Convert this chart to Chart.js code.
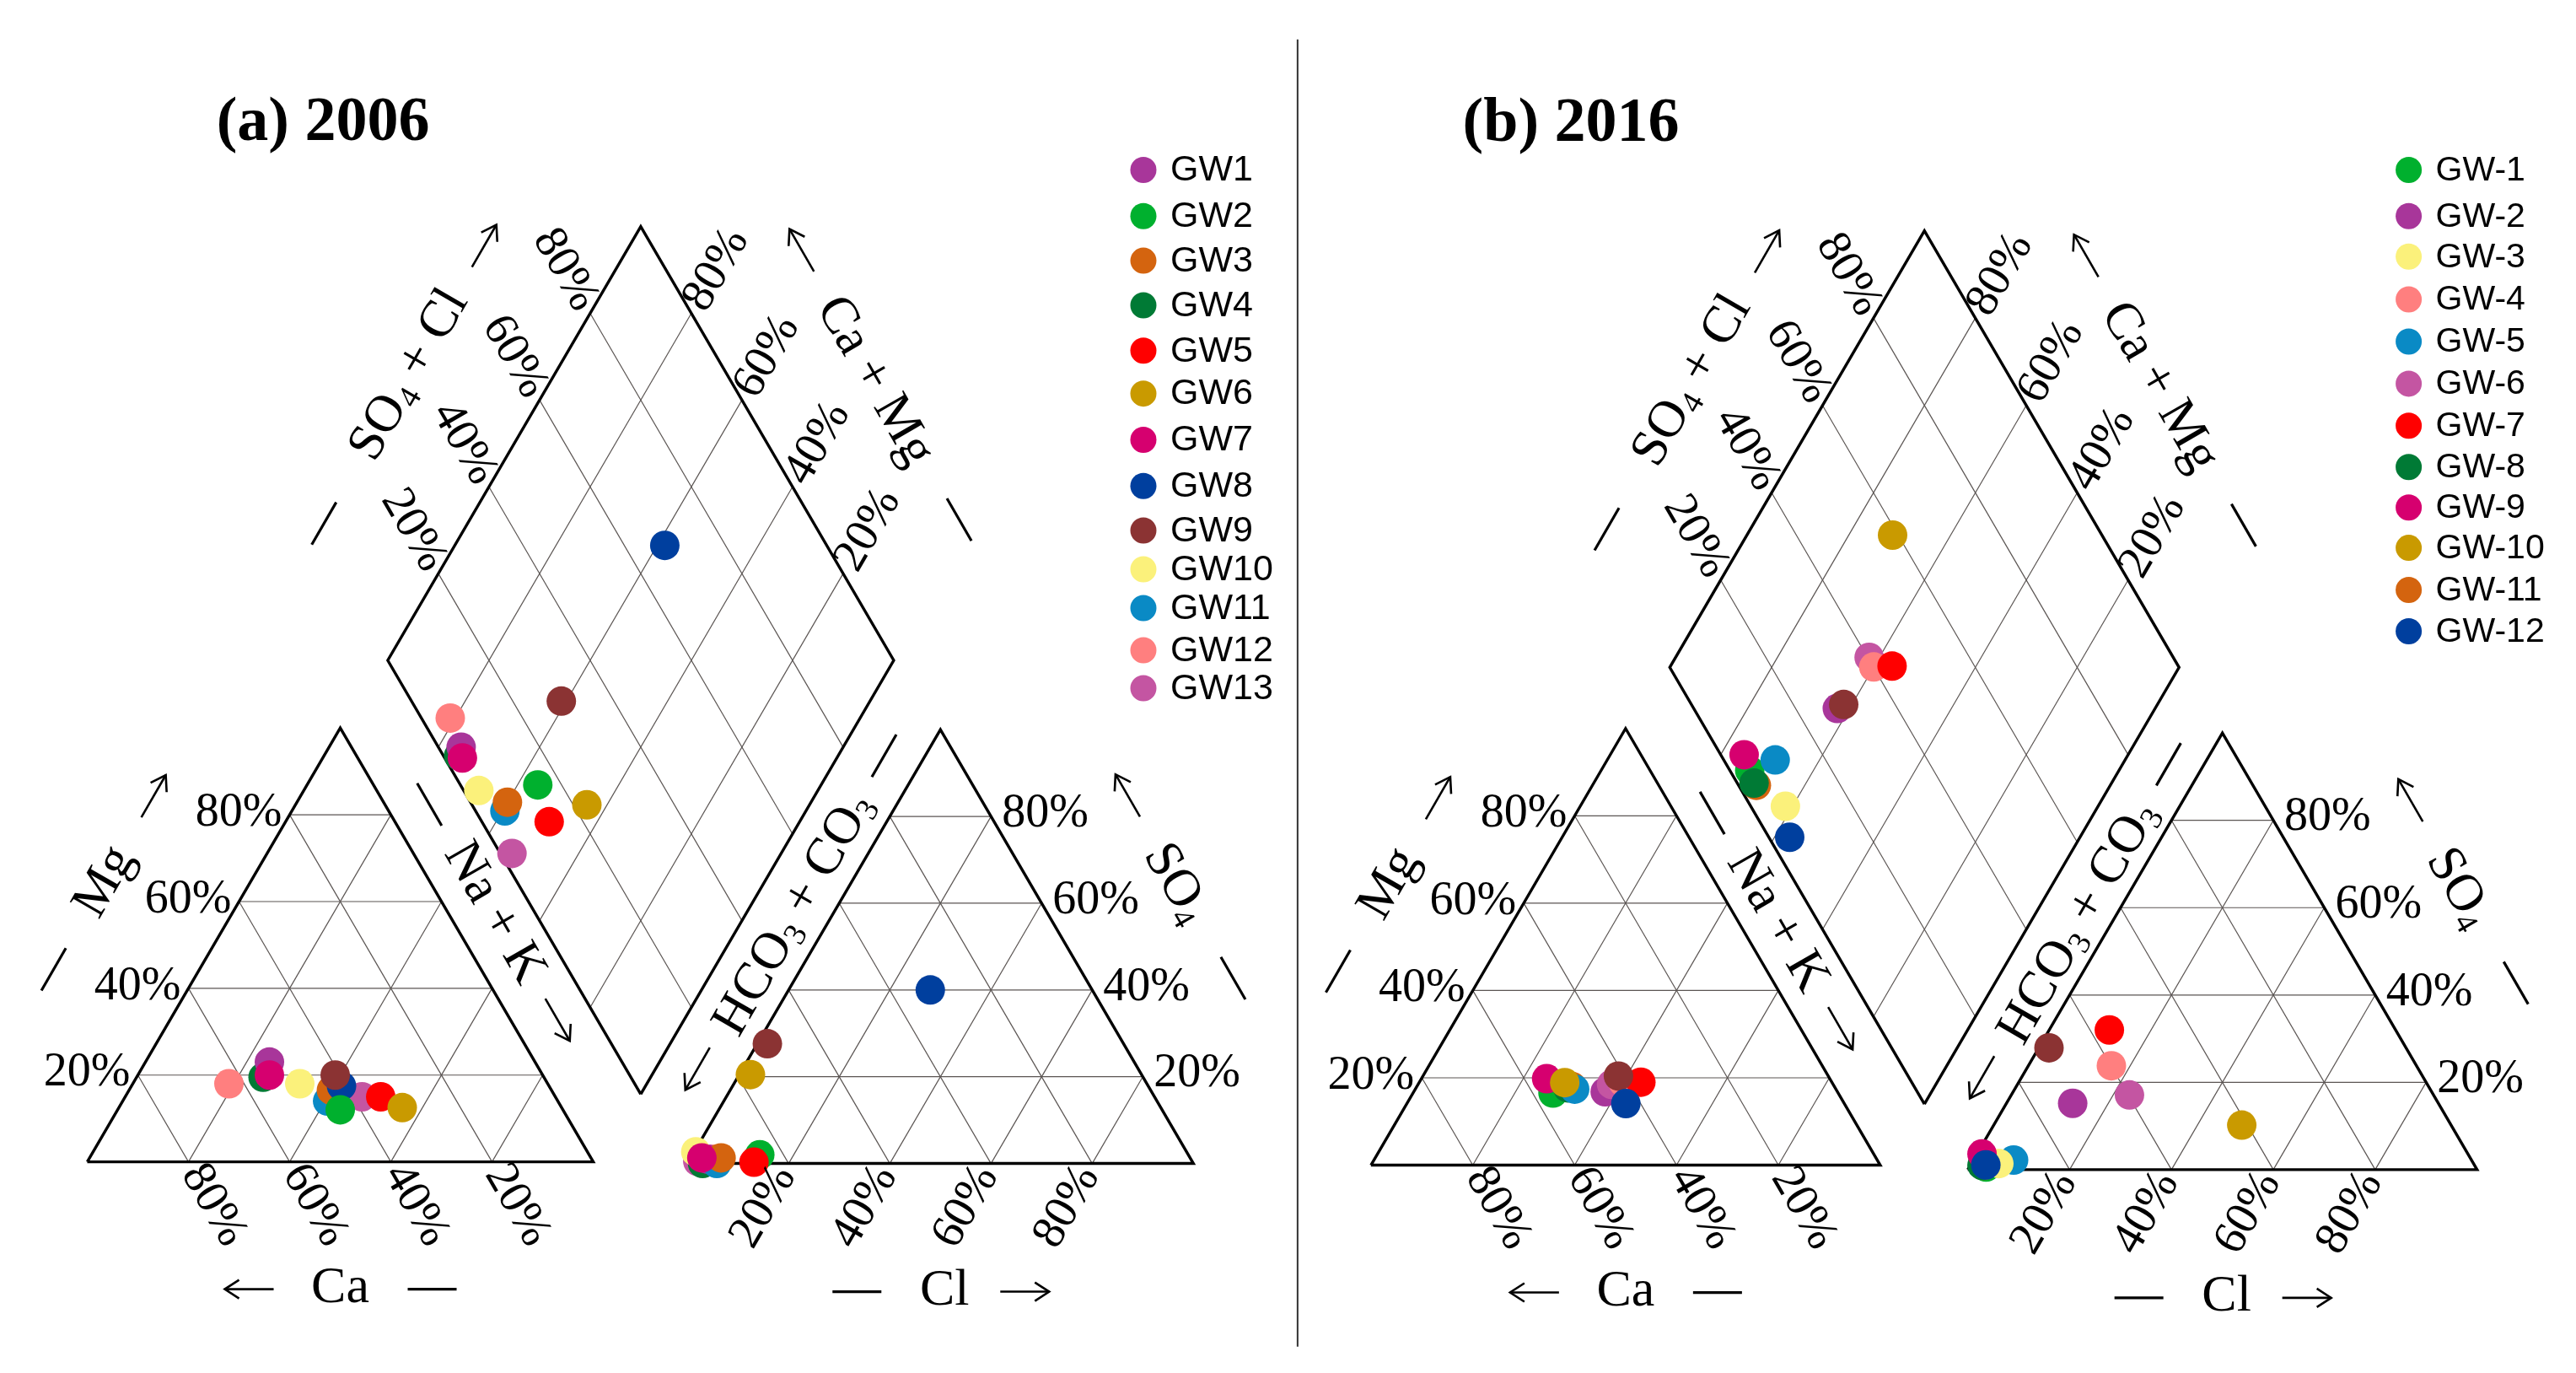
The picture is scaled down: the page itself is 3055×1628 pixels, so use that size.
<!DOCTYPE html>
<html>
<head>
<meta charset="utf-8">
<title>Piper diagrams 2006 / 2016</title>
<script src="https://cdn.jsdelivr.net/npm/chart.js@4.4.0/dist/chart.umd.min.js"></script>
<style>
  html, body { margin: 0; padding: 0; background: #ffffff; }
  #wrap { width: 3055px; height: 1628px; position: relative; }
</style>
</head>
<body>
<div id="wrap"><canvas id="piper"></canvas></div>
<script>
// ---- (a) 2006, meq% ----
var samplesA = ['GW1', 'GW2', 'GW3', 'GW4', 'GW5', 'GW6', 'GW7', 'GW8', 'GW9', 'GW10', 'GW11', 'GW12', 'GW13'];
var caA   = [52.5, 44, 43.5, 55.5, 34.5, 31.5, 54, 41, 41, 49, 45.5, 63, 38.2];
var mgA   = [23, 12, 16.5, 19.5, 15, 12.5, 20, 17.5, 20, 18, 14, 18, 15];
var nakA  = [24.5, 44, 40, 25, 50.5, 56, 26, 41.5, 39, 33, 40.5, 19, 46.8];
var hco3A = [95.5, 84.7, 92.7, 97, 86.7, 77.3, 96.5, 32, 70.4, 97, 94.2, 94.3, 97.7];
var so4A  = [1, 2, 1.3, 0, 0.3, 20.5, 1.3, 40, 27.6, 2.7, 0, 1, 0.5];
var clA   = [3.5, 13.3, 6, 3, 13, 2.2, 2.2, 28, 2, 0.3, 5.8, 4.7, 1.8];

// ---- (b) 2016 (last sample is plotted but has no legend entry) ----
var samplesB = ['GW-1', 'GW-2', 'GW-3', 'GW-4', 'GW-5', 'GW-6', 'GW-7', 'GW-8', 'GW-9', 'GW-10', 'GW-11', 'GW-12', 'GW-13'];
var caB   = [56, 45.6, 42.9, 41, 51.3, 43.5, 37.5, 52.5, 55.6, 52.5, 51.5, 42.9, 41.2];
var mgB   = [16.5, 16.8, 18.5, 19, 17.4, 18.5, 19, 17.7, 19.8, 18.9, 18, 14.1, 20.4];
var nakB  = [27.5, 37.6, 38.6, 40, 31.3, 38, 43.5, 29.8, 24.6, 28.6, 30.5, 43, 38.4];
var hco3B = [96.1, 71.8, 93.2, 59.9, 89.9, 59.7, 56.2, 96.7, 95.4, 41.1, 96.5, 95.9, 70.1];
var so4B  = [0.6, 15.2, 1.4, 23.8, 2.2, 17.1, 32, 1, 3.6, 10.2, 1, 1.1, 27.9];
var clB   = [3.3, 13, 5.4, 16.3, 7.9, 23.2, 11.8, 2.3, 1, 48.7, 2.5, 3, 2];
var legendCountB = 12;

var gridSteps = [20, 40, 60, 80];
var tickLabels = ['20%', '40%', '60%', '80%'];

// styles
var colorsA = ['#a8369a', '#00b02e', '#d4640f', '#007a35', '#ff0000', '#c99a00', '#d6006f',
               '#003f9e', '#8b3333', '#fbf17b', '#0a8ac5', '#ff7f7f', '#c455a2'];
var colorsB = ['#00b02e', '#a8369a', '#fbf17b', '#ff7f7f', '#0a8ac5', '#c455a2', '#ff0000',
               '#007a35', '#d6006f', '#c99a00', '#d4640f', '#003f9e', '#8b3333'];
var stackA = ['GW13', 'GW12', 'GW4', 'GW1', 'GW11', 'GW3', 'GW8', 'GW9', 'GW10', 'GW2', 'GW5', 'GW6', 'GW7'];
var stackB = ['GW-1', 'GW-11', 'GW-8', 'GW-5', 'GW-3', 'GW-9', 'GW-10', 'GW-2', 'GW-6', 'GW-4', 'GW-7', 'GW-13', 'GW-12'];

var SERIF = '"Liberation Serif", "Times New Roman", serif';
var SANS = '"Liberation Sans", Arial, sans-serif';
var S3 = Math.sqrt(3) / 2;

var panels = [
  { title: '(a) 2006', titleX: 242, titleY: 152, cat: [87, 1390], an: [807, 1392], dia: [751, 1308], side: 607,
    names: samplesA, ca: caA, mg: mgA, nak: nakA, hco3: hco3A, so4: so4A, cl: clA,
    colors: colorsA, stack: stackA, legendCount: samplesA.length, legFont: 43,
    legX: 1354, legY: [188, 244, 298, 352, 407, 459, 515, 571, 625, 672, 719, 770, 816] },
  { title: '(b) 2016', titleX: 1737, titleY: 153, cat: [1627, 1394], an: [2343, 1399.5], dia: [2291, 1320], side: 611,
    names: samplesB, ca: caB, mg: mgB, nak: nakB, hco3: hco3B, so4: so4B, cl: clB,
    colors: colorsB, stack: stackB, legendCount: legendCountB, legFont: 41,
    legX: 2872, legY: [188, 244, 293, 345, 396, 447, 498, 548, 597, 646, 697, 747] }
];

// ternary -> plot units
function catPt(p, mg, nak) {
  var L = p.side;
  return { x: p.cat[0] + L * (nak + mg / 2) / 100, y: p.cat[1] - L * S3 * mg / 100 };
}
function anPt(p, so4, cl) {
  var L = p.side;
  return { x: p.an[0] + L * (cl + so4 / 2) / 100, y: p.an[1] - L * S3 * so4 / 100 };
}
function diaPt(p, nak, soCl) {
  var L = p.side, a = (100 - nak) / 100, s = soCl / 100;
  return { x: p.dia[0] + L * 0.5 * (s - a), y: p.dia[1] - L * S3 * (a + s) };
}

var datasets = [];

function lineSet(points, color, width, order) {
  return { data: points, showLine: true, borderColor: color, borderWidth: width,
           pointRadius: 0, pointHoverRadius: 0, order: order, clip: false,
           borderJoinStyle: 'miter', tension: 0 };
}

panels.forEach(function (p) {
  gridSteps.forEach(function (k) {
    datasets.push(lineSet([catPt(p, k, 0), catPt(p, k, 100 - k)], '#5b5553', 1.2, 1000));
    datasets.push(lineSet([catPt(p, 0, k), catPt(p, 100 - k, k)], '#5b5553', 1.2, 1000));
    datasets.push(lineSet([catPt(p, 0, 100 - k), catPt(p, 100 - k, 0)], '#5b5553', 1.2, 1000));
    datasets.push(lineSet([anPt(p, k, 0), anPt(p, k, 100 - k)], '#5b5553', 1.2, 1000));
    datasets.push(lineSet([anPt(p, 0, k), anPt(p, 100 - k, k)], '#5b5553', 1.2, 1000));
    datasets.push(lineSet([anPt(p, 0, 100 - k), anPt(p, 100 - k, 0)], '#5b5553', 1.2, 1000));
    datasets.push(lineSet([diaPt(p, 100 - k, 0), diaPt(p, 100 - k, 100)], '#5b5553', 1.2, 1000));
    datasets.push(lineSet([diaPt(p, 100, k), diaPt(p, 0, k)], '#5b5553', 1.2, 1000));
  });
  datasets.push(lineSet([catPt(p, 0, 0), catPt(p, 100, 0), catPt(p, 0, 100), catPt(p, 0, 0)], '#000', 3.4, 900));
  datasets.push(lineSet([anPt(p, 0, 0), anPt(p, 100, 0), anPt(p, 0, 100), anPt(p, 0, 0)], '#000', 3.4, 900));
  datasets.push(lineSet([diaPt(p, 100, 0), diaPt(p, 0, 0), diaPt(p, 0, 100), diaPt(p, 100, 100), diaPt(p, 100, 0)], '#000', 3.4, 900));

  p.names.forEach(function (name, i) {
    var cSum = p.ca[i] + p.mg[i] + p.nak[i];
    var aSum = p.hco3[i] + p.so4[i] + p.cl[i];
    var mg = 100 * p.mg[i] / cSum, nak = 100 * p.nak[i] / cSum;
    var so4 = 100 * p.so4[i] / aSum, cl = 100 * p.cl[i] / aSum;
    datasets.push({
      label: name,
      data: [catPt(p, mg, nak), anPt(p, so4, cl), diaPt(p, nak, so4 + cl)],
      backgroundColor: p.colors[i], borderWidth: 0,
      pointRadius: 17.5, pointHoverRadius: 17.5, showLine: false, clip: false,
      order: 100 - p.stack.indexOf(name)
    });
  });
});

// divider between the two panels
datasets.push(lineSet([{ x: 1539, y: 30 }, { x: 1539, y: 1614 }], '#333', 2, 800));

function rotText(ctx, text, x, y, ang, align, dx) {
  ctx.save();
  ctx.translate(x, y);
  ctx.rotate(ang);
  ctx.textAlign = align;
  ctx.textBaseline = 'middle';
  ctx.fillText(text, dx, 0);
  ctx.restore();
}

// text with subscripts, centred on (x, y)
function richText(ctx, parts, x, y, ang, size) {
  ctx.save();
  ctx.translate(x, y);
  ctx.rotate(ang);
  ctx.textAlign = 'left';
  ctx.textBaseline = 'middle';
  var widths = parts.map(function (pt) {
    ctx.font = (pt[1] ? Math.round(size * 0.62) : size) + 'px ' + SERIF;
    return ctx.measureText(pt[0]).width;
  });
  var total = widths.reduce(function (a, b) { return a + b; }, 0);
  var cur = -total / 2;
  parts.forEach(function (pt, i) {
    ctx.font = (pt[1] ? Math.round(size * 0.62) : size) + 'px ' + SERIF;
    ctx.fillText(pt[0], cur, pt[1] ? size * 0.24 : 0);
    cur += widths[i];
  });
  ctx.restore();
}

// dash (dir 0) or arrow pointing along +x (dir 1) / -x (dir -1) of a rotated frame
function mark(ctx, pos, ang, dir) {
  var half = 29;
  ctx.save();
  ctx.translate(pos.x, pos.y);
  ctx.rotate(ang);
  ctx.strokeStyle = '#000';
  ctx.lineCap = 'butt';
  ctx.beginPath();
  ctx.moveTo(-half, 0);
  ctx.lineTo(half, 0);
  ctx.lineWidth = dir === 0 ? 3.2 : 2.6;
  ctx.stroke();
  if (dir !== 0) {
    var tip = dir * half, back = tip - dir * 17;
    ctx.beginPath();
    ctx.moveTo(back, -11);
    ctx.lineTo(tip, 0);
    ctx.lineTo(back, 11);
    ctx.lineWidth = 2.6;
    ctx.stroke();
  }
  ctx.restore();
}

function off(m, n, dn, d, dd) {
  return { x: m.x + n[0] * dn + d[0] * dd, y: m.y + n[1] * dn + d[1] * dd };
}

var piperText = {
  id: 'piperText',
  afterDraw: function (chart) {
    var ctx = chart.ctx, sx = chart.scales.x, sy = chart.scales.y;
    function px(pt) { return { x: sx.getPixelForValue(pt.x), y: sy.getPixelForValue(pt.y) }; }
    var up = -Math.PI / 3, down = Math.PI / 3, flat = 0;
    ctx.save();
    ctx.fillStyle = '#000';

    panels.forEach(function (p) {
      // title
      ctx.font = 'bold 74px ' + SERIF;
      ctx.textAlign = 'left';
      ctx.textBaseline = 'alphabetic';
      ctx.fillText(p.title, sx.getPixelForValue(p.titleX), sy.getPixelForValue(p.titleY));

      // tick labels
      ctx.font = '56px ' + SERIF;
      gridSteps.forEach(function (k, j) {
        var t = tickLabels[j], q;
        q = px(catPt(p, k, 0));
        ctx.textAlign = 'right'; ctx.textBaseline = 'middle';
        ctx.fillText(t, q.x - 9, q.y - 2);
        q = px(catPt(p, 0, 100 - k));
        rotText(ctx, t, q.x, q.y, down, 'left', 8);
        q = px(anPt(p, k, 100 - k));
        ctx.textAlign = 'left'; ctx.textBaseline = 'middle';
        ctx.fillText(t, q.x + 13, q.y - 3);
        q = px(anPt(p, 0, k));
        rotText(ctx, t, q.x, q.y, up, 'right', -8);
        q = px(diaPt(p, 0, k));
        rotText(ctx, t, q.x, q.y, down, 'right', -8);
        q = px(diaPt(p, 100 - k, 100));
        rotText(ctx, t, q.x, q.y, up, 'left', 8);
      });

      // axis names
      var fs = 62, a, m;
      var uUp = [0.5, -S3], uDown = [0.5, S3];

      // Mg (cation left edge)
      m = px(catPt(p, 50, 0));
      var nML = [-S3, -0.5];
      a = off(m, nML, 149, uUp, 0); richText(ctx, [['Mg', 0]], a.x, a.y, up, fs);
      mark(ctx, off(m, nML, 150, uUp, -120), up, 0);
      mark(ctx, off(m, nML, 150, uUp, 117), up, 1);

      // SO4 (anion right edge)
      m = px(anPt(p, 50, 50));
      var nAR = [S3, -0.5];
      a = off(m, nAR, 149, uDown, 0); richText(ctx, [['SO', 0], ['4', 1]], a.x, a.y, down, fs);
      mark(ctx, off(m, nAR, 152, uDown, -119), down, -1);
      mark(ctx, off(m, nAR, 152, uDown, 131), down, 0);

      // SO4 + Cl (diamond upper-left)
      m = px(diaPt(p, 0, 50));
      a = off(m, nML, 148, uUp, 8); richText(ctx, [['SO', 0], ['4', 1], [' + Cl', 0]], a.x, a.y, up, fs);
      mark(ctx, off(m, nML, 148, uUp, -195), up, 0);
      mark(ctx, off(m, nML, 148, uUp, 185), up, 1);

      // Ca + Mg (diamond upper-right)
      m = px(diaPt(p, 50, 100));
      a = off(m, nAR, 147, uDown, 0); richText(ctx, [['Ca + Mg', 0]], a.x, a.y, down, fs);
      mark(ctx, off(m, nAR, 150, uDown, -178), down, -1);
      mark(ctx, off(m, nAR, 152, uDown, 192), down, 0);

      // Na + K (diamond lower-left)
      m = px(diaPt(p, 50, 0));
      var nDL = [-S3, 0.5];
      a = off(m, nDL, 42, uDown, 25); richText(ctx, [['Na + K', 0]], a.x, a.y, down, fs);
      mark(ctx, off(m, nDL, 44, uDown, -125), down, 0);
      mark(ctx, off(m, nDL, 40, uDown, 172), down, 1);

      // HCO3 + CO3 (diamond lower-right)
      m = px(diaPt(p, 100, 50));
      var nDR = [S3, 0.5];
      a = off(m, nDR, 50, uUp, -22);
      richText(ctx, [['HCO', 0], ['3', 1], [' + CO', 0], ['3', 1]], a.x, a.y, up, fs);
      mark(ctx, off(m, nDR, 42, uUp, -238), up, -1);
      mark(ctx, off(m, nDR, 48, uUp, 194), up, 0);

      // Ca and Cl under the triangles
      m = px(catPt(p, 0, 50));
      richText(ctx, [['Ca', 0]], m.x, m.y + 150, flat, fs);
      mark(ctx, { x: m.x - 108, y: m.y + 151 }, flat, -1);
      mark(ctx, { x: m.x + 109, y: m.y + 151 }, flat, 0);
      m = px(anPt(p, 0, 50));
      richText(ctx, [['Cl', 0]], m.x + 5, m.y + 151, flat, fs);
      mark(ctx, { x: m.x - 99, y: m.y + 152 }, flat, 0);
      mark(ctx, { x: m.x + 100, y: m.y + 152 }, flat, 1);

      // legend
      ctx.font = p.legFont + 'px ' + SANS;
      ctx.textAlign = 'left'; ctx.textBaseline = 'middle';
      for (var i = 0; i < p.legendCount; i++) {
        var lx = sx.getPixelForValue(p.legX), ly = sy.getPixelForValue(p.legY[i]);
        ctx.fillStyle = p.colors[i];
        ctx.beginPath();
        ctx.arc(lx, ly, 15.5, 0, 2 * Math.PI);
        ctx.fill();
        ctx.fillStyle = '#000';
        ctx.fillText(p.names[i], lx + 32, ly + 1);
      }
    });
    ctx.restore();
  }
};

new Chart(document.getElementById('piper'), {
  type: 'scatter',
  data: { datasets: datasets },
  options: {
    responsive: true,
    maintainAspectRatio: false,
    devicePixelRatio: 1,
    animation: false,
    events: [],
    layout: { padding: 0 },
    plugins: { legend: { display: false }, tooltip: { enabled: false } },
    scales: {
      x: { type: 'linear', min: 0, max: 3055, display: false },
      y: { type: 'linear', min: 0, max: 1628, reverse: true, display: false }
    }
  },
  plugins: [piperText]
});
</script>
</body>
</html>
